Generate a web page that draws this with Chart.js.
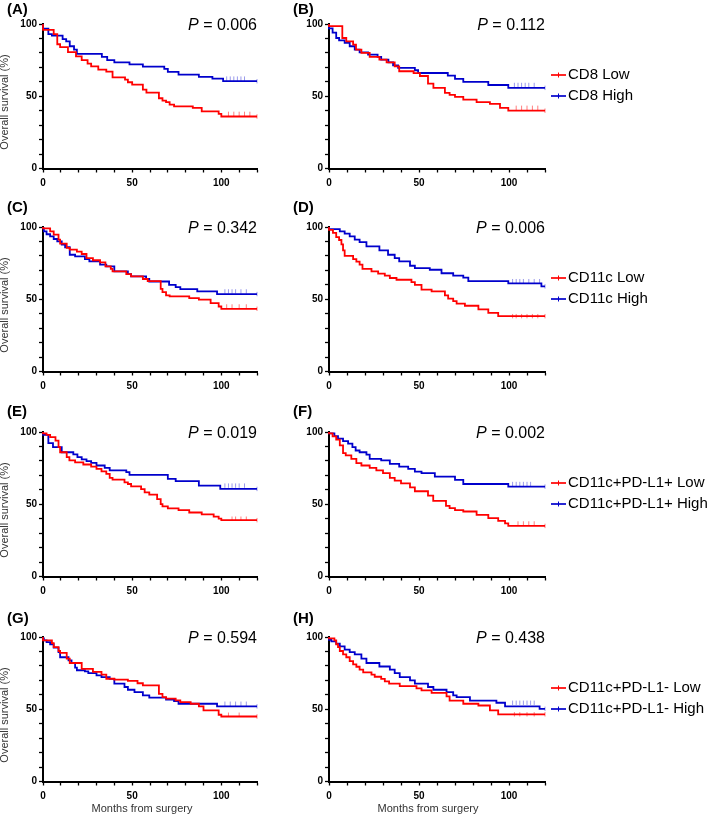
<!DOCTYPE html>
<html>
<head>
<meta charset="utf-8">
<script src="https://cdn.jsdelivr.net/npm/chart.js@4.4.1/dist/chart.umd.min.js"></script>
<style>
  html, body { margin: 0; padding: 0; background: #fff; }
  body { width: 709px; height: 814px; position: relative; overflow: hidden; }
  canvas { position: absolute; }
</style>
</head>
<body>
<script>
// axis ticks
const xTickLabels = [0, 50, 100];
const yTickLabels = [0, 50, 100];
const panelLetters = ['A', 'B', 'C', 'D', 'E', 'F', 'G', 'H'];
const pValues = ['0.006', '0.112', '0.342', '0.006', '0.019', '0.002', '0.594', '0.438'];
const markers = ['CD8', 'CD11c', 'CD11c+PD-L1+', 'CD11c+PD-L1-'];
const groups = ['Low', 'High'];

// Kaplan-Meier steps: [month, survival %] (value after the drop)
const aLow = [[0,100],[6,96],[8,93],[9.6,86],[14,84],[18.5,80.6],[21.7,77.6],[25,75],[27,72.6],[31,70.7],[35.5,68.4],[39,67],[46,63.1],[47.6,61.5],[50,59.7],[56,58],[58,54.6],[65,52.5],[67,48.6],[69,47],[71,46],[73.5,44.2],[84,43],[89,42],[98.5,39.6],[100,37.8],[119,36],[120,36]];
const aHigh = [[0,100],[3,96.8],[5,93],[11,92],[13,89.6],[15,88],[17.4,84.6],[19,82.3],[33,79.3],[36,77.2],[40,75],[48.5,73.5],[56,72.1],[68,70.5],[70,69],[76,66.8],[87.4,65],[95,63.4],[101,62.2],[116.5,60.4],[120,60.4]];
const bLow = [[0,100],[7.4,98.5],[9.6,90.3],[13.4,88],[15,85.7],[18,82.3],[22.6,80],[28,77.2],[32,75.3],[36.5,73.5],[39,70.7],[47,67.3],[50.5,66],[55,64],[58,58.8],[64.4,55.8],[67,52.3],[70,51],[74.6,49.5],[82,47.7],[89.4,46],[95,44.7],[99.6,42],[119.5,40],[120,40]];
const bHigh = [[0,100],[2,97],[4,94],[5.6,90.3],[8.7,88.7],[11.5,86.9],[14.3,84.6],[17,82.3],[21.7,80.4],[27,78.8],[29,77.2],[33,75.3],[35.6,73.5],[38.4,71.4],[47.7,69.6],[49.5,68],[66,66.1],[70,64.3],[74.6,62],[88.5,60],[99.6,57.8],[116,55.8],[120,55.8]];
const cLow = [[0,100],[4,99],[6,97],[8.7,94.7],[9.6,91.2],[13.3,88.5],[15,85.5],[19,84.3],[21.7,83],[24.4,81.3],[28,78.5],[32,77],[35,75.5],[38,72.7],[39,71],[46.7,69.3],[49.4,67.4],[56,65.8],[58.7,64],[66,62.5],[67,57.2],[69,55],[71,52.7],[82,52],[87.4,50.8],[94,49.7],[98.5,47.3],[100,45],[119,43.4],[120,43.4]];
const cHigh = [[0,100],[0.5,99],[2,97],[4,95],[6,93.5],[8,91.7],[10.5,90],[12.4,87.8],[15,86],[18,80.8],[23.5,79.7],[26,77.8],[32,76.2],[35.5,73.9],[40,72.7],[47.6,69.3],[49.4,67.4],[57.8,65.8],[59.6,64],[70.7,62.3],[74.4,60],[77,58.4],[86.5,57],[97.6,55.4],[117,53.6],[120,53.6]];
const dLow = [[0,100],[2.2,98],[4,96],[5.6,93],[6.9,91],[7.8,88],[8.7,83.8],[13.4,80],[15.2,77.8],[17,76],[18.6,73.9],[23.6,71],[27.3,69.3],[31,67.7],[33.8,66.3],[37.5,64.7],[45.8,63.5],[47.7,61.9],[51.4,60],[57,56.6],[64.4,55.5],[66.2,52.7],[69,50.4],[70.9,48.7],[75.5,47],[83,45.5],[88.5,43],[94,40.6],[99,38.3],[120,38.3]];
const dHigh = [[0,100],[6,98.5],[8.7,97],[11.5,95.4],[14.3,93.5],[17,91.2],[20.8,89.6],[28,86.6],[32.8,83.8],[36.5,80.8],[39,78.5],[45,76.2],[47.7,73.2],[56,71.6],[62.5,70.4],[69,68],[74.6,66.3],[77.4,65],[99.6,62.5],[118,61],[119.5,58.9],[120,58.9]];
const eLow = [[0,100],[2,99],[4,98],[7,96.5],[8.7,94],[9.6,89.6],[13.3,86],[14.8,82.6],[18,80.3],[22.6,79],[27,77.5],[30,76],[32.8,74.5],[35.5,72.8],[37.4,71],[39,68.2],[45.7,67],[47.6,65.2],[49.4,64],[55,62.4],[57,60.5],[59.6,58.2],[64,56.6],[66,53.6],[67,50.1],[70,48.5],[76,47.1],[82,46],[89,44.3],[95.7,43],[98.5,41.5],[100,40],[119,39],[120,39]];
const eHigh = [[0,100],[3,98],[5.6,92.3],[10.5,89.6],[17,86],[19.3,84.5],[21.7,82.6],[24.4,81],[27,79.8],[30,78.6],[34.6,76.8],[37.4,75.2],[46.7,73.5],[48.5,72.2],[70,70.3],[74.4,67.5],[87.4,66],[99.4,62.9],[116,60.6],[120,60.6]];
const fLow = [[0,100],[2,99],[4,97],[6,94.7],[7.8,90.7],[9.3,85.4],[12.4,83.8],[15.2,81.4],[18,78.4],[22.6,76.8],[26.3,75.2],[30,73.5],[33.8,71.5],[36.5,68.2],[40,66.4],[45,64.5],[47.7,61.7],[55,59],[57.9,56],[65,52.4],[67,48.9],[70,47.3],[74.6,46],[82,45],[88.5,42.7],[94,40.4],[97.8,38.5],[99.6,36.7],[119,35],[120,35]];
const fHigh = [[0,100],[3,99],[5,97.2],[7.8,95.4],[10.6,93.7],[13,91.9],[14.8,89.6],[17,87.2],[20.8,86],[22.6,84.4],[29,81.4],[33.8,80.3],[39,78],[44,76.1],[47.7,74.5],[51.4,72.6],[58.8,71.5],[70,69.1],[74.6,66.8],[99.6,64],[116,62.2],[120,62.2]];
const gLow = [[0,100],[5,97.7],[6,95.8],[8.7,93],[9.6,90.3],[13.3,89],[15,85],[21.7,82],[28,78],[32.8,75.8],[35.5,73.9],[40,71.1],[47.6,70.5],[53,69.7],[56,68],[65,66.5],[67,60.7],[69,58.4],[74.4,57.3],[77,56.1],[82.8,55],[87.4,53.8],[90,52],[98.5,49.2],[100,46.2],[119,45],[120,45]];
const gHigh = [[0,100],[0.5,99],[2,97.7],[4,96.5],[6,95],[8.7,92.6],[9.6,89.6],[14.3,86],[16,83.8],[18,82],[19,78.8],[23.5,77],[25.4,76.2],[30,75],[32.8,73.4],[37.4,72.3],[40,71],[45.7,67.7],[47.6,65.4],[51.3,63.5],[56,61.9],[59.6,59.6],[69,58],[73.5,56.6],[76,55.7],[97.6,53.8],[116,52],[120,52]];
const hLow = [[0,100],[3,99],[4,97.7],[5,95],[6,93],[7.8,90.3],[9.6,88],[11.5,86],[13.4,83.3],[15.2,81],[17,79.4],[19,77.4],[23.6,75.5],[25.4,74],[29,72.5],[31,71],[33.4,69.3],[39.3,67.7],[48.6,66],[51.4,64.4],[57,63],[65.3,61.4],[67,58.9],[74.6,56],[83,53.8],[89.4,52.6],[94,49.2],[99.6,46.5],[120,46.5]];
const hHigh = [[0,100],[1.3,98],[4,97],[6,95.4],[8.7,93.5],[11.5,91.2],[14.3,89.6],[18,88],[20.8,85],[28,82],[33.8,79.6],[36.5,77.4],[39.3,75],[45,72.3],[47.7,70],[55,67.7],[58,65.4],[65.3,63.5],[69,61.9],[70.9,59.6],[78.3,58.4],[93,56],[97.8,54.5],[117,52],[119,50.3],[120,50.3]];

// censoring times (months)
const aLowCens = [104, 107, 110, 113, 116, 120];
const aHighCens = [103, 105, 107, 109, 111, 113, 120];
const bLowCens = [104, 107, 110, 113, 116, 120];
const bHighCens = [103, 105, 107, 109, 111, 114, 120];
const cLowCens = [103, 106, 110, 114, 120];
const cHighCens = [102, 104, 106, 108, 111, 114, 120];
const dLowCens = [102, 104, 107, 110, 113, 116, 120];
const dHighCens = [102, 104, 106, 108, 111, 114, 117, 120];
const eLowCens = [106, 108, 111, 114, 120];
const eHighCens = [102, 104, 106, 108, 110, 113, 120];
const fLowCens = [105, 108, 111, 114, 120];
const fHighCens = [102, 104, 106, 108, 110, 112, 120];
const gLowCens = [104, 110, 120];
const gHighCens = [102, 105, 108, 111, 114, 120];
const hLowCens = [103, 106, 110, 114, 120];
const hHighCens = [102, 104, 106, 108, 110, 112, 114, 120];

const curves = [
    [aLow, aHigh, aLowCens, aHighCens], [bLow, bHigh, bLowCens, bHighCens],
    [cLow, cHigh, cLowCens, cHighCens], [dLow, dHigh, dLowCens, dHighCens],
    [eLow, eHigh, eLowCens, eHighCens], [fLow, fHigh, fLowCens, fHighCens],
    [gLow, gHigh, gLowCens, gHighCens], [hLow, hHigh, hLowCens, hHighCens]
];

const RED = '#ff0000';
const BLUE = '#0000cc';
const FONT = '"Liberation Sans", Arial, Helvetica, sans-serif';

// page layout
const rowTops = [0, 195, 400, 605];
const rowPadTop = [24, 32, 32, 32];
const rowXAxis = [21.5, 21.5, 21.5, 32.5];
const labelDy = [-14, -19, -20, -18];
const colLeft = [0, 290];
const colWidth = [262, 419];
const yAxisWidth = [43, 39];
const PLOT_W = 216;
const PLOT_H = 144.5;

function toPoints(steps) {
    return steps.map(p => ({ x: p[0], y: p[1] }));
}

// survival value at time t on a step curve
function survivalAt(steps, t) {
    let s = steps[0][1];
    for (const p of steps) {
        if (p[0] <= t) s = p[1];
    }
    return s;
}

const panelText = {
    id: 'panelText',
    afterDraw(chart, args, opts) {
        const ctx = chart.ctx;
        const area = chart.chartArea;
        ctx.save();
        ctx.fillStyle = '#000';
        ctx.textBaseline = 'middle';

        // panel letter
        ctx.textAlign = 'left';
        ctx.font = 'bold 15px ' + FONT;
        ctx.fillText('(' + opts.letter + ')', area.left - 36, area.top + opts.labelDy);

        // P value, right aligned
        ctx.font = '16px ' + FONT;
        const rest = ' = ' + opts.p;
        const restW = ctx.measureText(rest).width;
        ctx.fillText(rest, area.right - restW, area.top + 2);
        ctx.font = 'italic 16px ' + FONT;
        const pW = ctx.measureText('P').width;
        ctx.fillText('P', area.right - restW - pW, area.top + 2);

        // legend
        if (opts.legend) {
            const colors = [RED, BLUE];
            ctx.font = '15px ' + FONT;
            opts.legend.forEach((name, i) => {
                const y = area.top + 51 + i * 21;
                ctx.strokeStyle = colors[i];
                ctx.lineWidth = 1.7;
                ctx.beginPath();
                ctx.moveTo(area.right + 6, y);
                ctx.lineTo(area.right + 21, y);
                ctx.stroke();
                ctx.lineWidth = 1;
                ctx.beginPath();
                ctx.moveTo(area.right + 13.5, y - 2.5);
                ctx.lineTo(area.right + 13.5, y + 2.5);
                ctx.stroke();
                ctx.fillStyle = '#000';
                ctx.fillText(name, area.right + 23, y);
            });
        }

        // axis titles
        ctx.fillStyle = '#333';
        ctx.font = '11px ' + FONT;
        ctx.textAlign = 'center';
        if (opts.yTitle) {
            ctx.save();
            ctx.translate(5, area.top + 78);
            ctx.rotate(-Math.PI / 2);
            ctx.fillText('Overall survival (%)', 0, 0);
            ctx.restore();
        }
        if (opts.xTitle) {
            ctx.fillText('Months from surgery', area.left + 99, area.bottom + 27);
        }
        ctx.restore();
    }
};

function tickFont() {
    return { family: FONT, size: 10, weight: 'bold' };
}

curves.forEach((c, idx) => {
    const row = Math.floor(idx / 2);
    const col = idx % 2;
    const [low, high, lowCens, highCens] = c;
    const height = rowPadTop[row] + PLOT_H + rowXAxis[row];

    const canvas = document.createElement('canvas');
    canvas.width = colWidth[col];
    canvas.height = height;
    canvas.style.left = colLeft[col] + 'px';
    canvas.style.top = rowTops[row] + 'px';
    canvas.style.width = colWidth[col] + 'px';
    canvas.style.height = height + 'px';
    document.body.appendChild(canvas);

    const padRight = colWidth[col] - yAxisWidth[col] - PLOT_W;
    const names = groups.map(g => markers[row] + ' ' + g);

    const censorSet = (times, steps, color) => ({
        data: times.map(t => ({ x: t, y: survivalAt(steps, t) })),
        showLine: false,
        pointStyle: 'line',
        rotation: 90,
        pointRadius: 2.2,
        pointBorderWidth: 1,
        pointBorderColor: color,
        borderColor: color,
        clip: 4
    });

    new Chart(canvas, {
        type: 'line',
        data: {
            datasets: [
                {
                    label: names[0],
                    data: toPoints(low),
                    stepped: 'after',
                    borderColor: RED,
                    borderWidth: 1.8,
                    pointRadius: 0,
                    fill: false,
                    clip: 4
                },
                {
                    label: names[1],
                    data: toPoints(high),
                    stepped: 'after',
                    borderColor: BLUE,
                    borderWidth: 1.8,
                    pointRadius: 0,
                    fill: false,
                    clip: 4
                },
                censorSet(lowCens, low, 'rgba(255,0,0,0.5)'),
                censorSet(highCens, high, 'rgba(0,0,204,0.4)')
            ]
        },
        options: {
            responsive: false,
            maintainAspectRatio: false,
            animation: false,
            events: [],
            layout: { padding: { top: rowPadTop[row], right: padRight, left: 0, bottom: 0 } },
            plugins: {
                legend: { display: false },
                tooltip: { enabled: false },
                panelText: {
                    letter: panelLetters[idx],
                    p: pValues[idx],
                    labelDy: labelDy[row],
                    legend: col === 1 ? names : null,
                    yTitle: col === 0,
                    xTitle: row === 3
                }
            },
            scales: {
                x: {
                    type: 'linear',
                    min: 0,
                    max: 120,
                    ticks: {
                        stepSize: 10,
                        autoSkip: false,
                        maxRotation: 0,
                        padding: 5,
                        color: '#000',
                        font: tickFont(),
                        callback: v => xTickLabels.includes(v) ? String(v) : ''
                    },
                    grid: { drawOnChartArea: false, tickLength: 4, tickColor: '#000', tickWidth: 1.3 },
                    border: { display: true, color: '#000', width: 2 },
                    afterFit: scale => { scale.height = rowXAxis[row]; }
                },
                y: {
                    type: 'linear',
                    min: 0,
                    max: 100,
                    ticks: {
                        stepSize: 10,
                        autoSkip: false,
                        padding: 2,
                        color: '#000',
                        font: tickFont(),
                        callback: v => yTickLabels.includes(v) ? String(v) : ''
                    },
                    grid: { drawOnChartArea: false, tickLength: 4, tickColor: '#000', tickWidth: 1.3 },
                    border: { display: true, color: '#000', width: 2 },
                    afterFit: scale => { scale.width = yAxisWidth[col]; }
                }
            }
        },
        plugins: [panelText]
    });
});
</script>
</body>
</html>
